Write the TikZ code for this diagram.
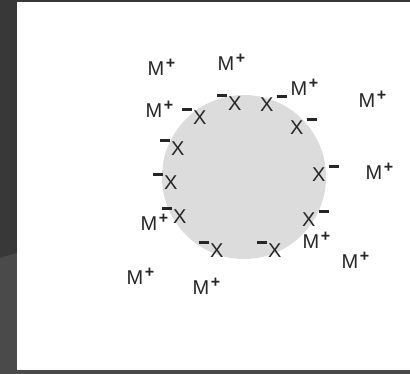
\documentclass[tikz,border=0pt]{standalone}
\usepackage{fontspec}
\setmainfont{Liberation Sans}
\definecolor{slate}{HTML}{383838}
\definecolor{slatelight}{HTML}{4A4A4A}
\definecolor{core}{HTML}{DCDCDC}
\newcommand{\pls}{\raisebox{7.5pt}{\fontsize{16}{16}\selectfont\bfseries +}}
\newcommand{\mns}{\raisebox{13.5pt}{\rule{10pt}{3pt}}}
\newcommand{\cation}{M\kern1.5pt\pls}
\newcommand{\anionL}{\mns\kern1pt X}
\newcommand{\anionR}{X\kern3pt\mns}
\tikzstyle{ion} = [
    inner sep=0pt,
    anchor=base west,
    font=\fontsize{20}{20}\selectfont,
    text=black!85
]

\begin{document}
\begin{tikzpicture}[x=1pt, y=-1pt]

% background and panel
\fill[slate] (0,0) rectangle (410,374);
\fill[slatelight] (0,258) -- (60,240) -- (60,374) -- (0,374) -- cycle;
\fill[slatelight] (17,370) rectangle (410,374);
\fill[white] (17,2) rectangle (410,370);
\useasboundingbox (0,0) rectangle (410,374);

% particle
\node (core) [circle, fill=core, minimum size=164pt, inner sep=0pt] at (244,177) {};

% counter ions
\node (m1) [ion] at (147.5,76) {\cation};
\node (m2) [ion] at (217.5,71) {\cation};
\node (m3) [ion] at (145.5,118) {\cation};
\node (m4) [ion] at (290.5,96) {\cation};
\node (m5) [ion] at (358.5,108) {\cation};
\node (m6) [ion] at (365.5,180) {\cation};
\node (m7) [ion] at (140.5,231) {\cation};
\node (m8) [ion] at (126.5,285) {\cation};
\node (m9) [ion] at (192.5,295) {\cation};
\node (m10) [ion] at (302.5,249) {\cation};
\node (m11) [ion] at (341.5,269) {\cation};

% surface ions
\node (x1) [ion] at (182,125) {\anionL};
\node (x2) [ion] at (217,111) {\anionL};
\node (x3) [ion] at (260,112) {\anionR};
\node (x4) [ion] at (290,135) {\anionR};
\node (x5) [ion] at (312,182) {\anionR};
\node (x6) [ion] at (160,156) {\anionL};
\node (x7) [ion] at (153,190) {\anionL};
\node (x8) [ion] at (162,224) {\anionL};
\node (x9) [ion] at (199,258) {\anionL};
\node (x10) [ion] at (257,258) {\anionL};
\node (x11) [ion] at (302,227) {\anionR};

\end{tikzpicture}
\end{document}
